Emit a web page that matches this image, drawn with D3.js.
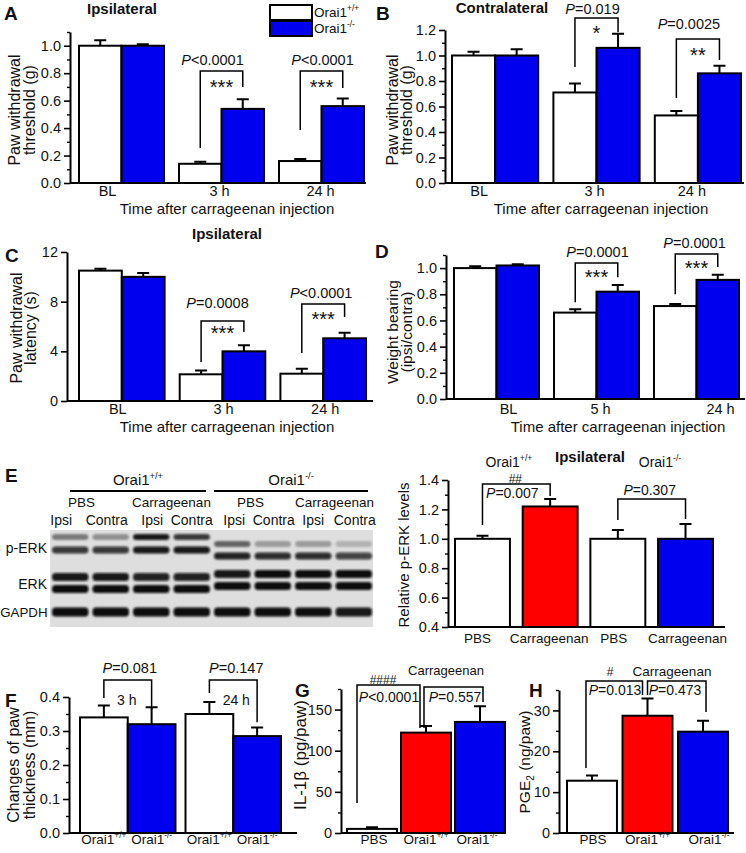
<!DOCTYPE html>
<html><head><meta charset="utf-8">
<script src="https://cdn.jsdelivr.net/npm/d3@7"></script>
<style>
body{margin:0;background:#fff}
svg{display:block}
text{font-family:"Liberation Sans",Arial,Helvetica,sans-serif;fill:#111}
</style>
</head><body>
<svg id="fig" width="746" height="853"></svg>
<script>
// ================= DATA =================
const genotypes = ["Orai1+/+", "Orai1-/-"];
const groupsABC = ["BL", "3 h", "24 h"];
const groupsD = ["BL", "5 h", "24 h"];

// A: ipsilateral paw withdrawal threshold (g)
const aWT = [1.00, 0.14, 0.16];
const aWTsem = [0.04, 0.015, 0.015];
const aKO = [1.00, 0.54, 0.56];
const aKOsem = [0.01, 0.07, 0.055];
// B: contralateral paw withdrawal threshold (g)
const bWT = [1.00, 0.71, 0.53];
const bWTsem = [0.03, 0.07, 0.035];
const bKO = [1.00, 1.06, 0.86];
const bKOsem = [0.05, 0.11, 0.06];
// C: paw withdrawal latency (s)
const cWT = [10.5, 2.15, 2.2];
const cWTsem = [0.15, 0.3, 0.4];
const cKO = [10.0, 4.0, 5.05];
const cKOsem = [0.3, 0.5, 0.45];
// D: weight bearing (ipsi/contra)
const dWT = [1.00, 0.66, 0.71];
const dWTsem = [0.015, 0.025, 0.015];
const dKO = [1.02, 0.82, 0.91];
const dKOsem = [0.01, 0.05, 0.04];
// E: relative p-ERK levels
const eCats = ["PBS", "Carrageenan", "PBS", "Carrageenan"];
const eVals = [1.00, 1.22, 1.00, 1.00];
const eSem = [0.02, 0.05, 0.06, 0.10];
// F: changes of paw thickness (mm)
const fTimes = ["3 h", "24 h"];
const fWT = [0.34, 0.35];
const fWTsem = [0.035, 0.035];
const fKO = [0.32, 0.285];
const fKOsem = [0.05, 0.025];
// G: IL-1beta (pg/paw)
const ghCats = ["PBS", "Orai1+/+", "Orai1-/-"];
const gVals = [5, 122, 135];
const gSem = [2, 8, 19];
// H: PGE2 (ng/paw)
const hVals = [12.8, 28.7, 24.8];
const hSem = [1.3, 4.2, 2.7];
// Western blot (band intensities 0..1)
const blotLanes = ["Ipsi", "Contra", "Ipsi", "Contra", "Ipsi", "Contra", "Ipsi", "Contra"];
const blotTreat = ["PBS", "Carrageenan", "PBS", "Carrageenan"];
const pErkUpper = [0.45, 0.35, 0.95, 0.8, 0.55, 0.3, 0.3, 0.2];
const pErkLower = [0.8, 0.8, 0.95, 0.95, 0.9, 0.85, 0.85, 0.75];
const erkUpper = [0.95, 0.95, 0.9, 0.9, 0.95, 1, 1, 1];
const erkLower = [1, 1, 1, 1, 1, 1, 1, 1];
const gapdh = [1, 1, 1, 1, 1, 1, 1, 0.95];
// tick values
const ticks0to1 = [0, 0.2, 0.4, 0.6, 0.8, 1.0];
const minors0to11 = [0.1, 0.3, 0.5, 0.7, 0.9, 1.1];
const ticksB = [0, 0.2, 0.4, 0.6, 0.8, 1.0, 1.2];
const minorsB = [0.1, 0.3, 0.5, 0.7, 0.9, 1.1];
const ticksC = [0, 4, 8, 12];
const ticksE = [0.4, 0.6, 0.8, 1.0, 1.2, 1.4];
const minorsE = [0.5, 0.7, 0.9, 1.1, 1.3];
const ticksF = [0, 0.1, 0.2, 0.3, 0.4];
const minorsF = [0.05, 0.15, 0.25, 0.35];
const ticksG = [0, 50, 100, 150];
const minorsG = [25, 75, 125, 175];
const ticksH = [0, 10, 20, 30];
const minorsH = [5, 15, 25, 35];

// ================= HELPERS =================
const svg = d3.select("#fig");
const BLUE = "#0000ee", RED = "#ff0000";
const f1 = d3.format(".1f"), fd = d3.format("d");

function rich(t, parts, fs) {
  let shift = 0;
  parts.forEach(([s, k]) => {
    const ts = t.append("tspan").text(s);
    let target = 0;
    if (k === "sup") { target = -0.42 * fs; ts.attr("font-size", fs * 0.62); }
    if (k === "sub") { target = 0.28 * fs; ts.attr("font-size", fs * 0.65); }
    if (k === "i") ts.attr("font-style", "italic");
    if (target !== shift) ts.attr("dy", target - shift);
    shift = target;
  });
}
function lab(s) {
  if (/[+-]\/[+-]$/.test(s)) return [[s.slice(0, -3)], [s.slice(-3), "sup"]];
  return [[s]];
}
function pv(s) { return [[s[0], "i"], [s.slice(1)]]; }
function txt(g, x, y, parts, o = {}) {
  const fs = o.fs || 14;
  const t = g.append("text").attr("x", x).attr("y", y).attr("font-size", fs)
    .attr("text-anchor", o.anchor || "middle");
  if (o.bold) t.attr("font-weight", "bold");
  rich(t, typeof parts === "string" ? [[parts]] : parts, fs);
  return t;
}
function vtxt(g, x, cy, parts, fs = 16) {
  const t = g.append("text").attr("transform", `translate(${x},${cy}) rotate(-90)`)
    .attr("font-size", fs).attr("text-anchor", "middle");
  rich(t, typeof parts === "string" ? [[parts]] : parts, fs);
}
function drawYAxis(g, y, x0, majors, minors, fmt) {
  const ax = g.append("g").attr("transform", `translate(${x0},0)`)
    .call(d3.axisLeft(y).tickValues(majors).tickFormat(fmt).tickSize(6).tickSizeOuter(0).tickPadding(3));
  ax.select(".domain").attr("stroke-width", 2).attr("stroke", "#000");
  ax.selectAll(".tick line").attr("stroke-width", 1.6).attr("stroke", "#000");
  ax.selectAll(".tick text").attr("font-size", 14.5).attr("fill", "#111");
  if (minors.length) {
    const mx = g.append("g").attr("transform", `translate(${x0},0)`)
      .call(d3.axisLeft(y).tickValues(minors).tickFormat("").tickSize(3).tickSizeOuter(0));
    mx.select(".domain").remove();
    mx.selectAll(".tick line").attr("stroke-width", 1.4).attr("stroke", "#000");
  }
}
function xAxisLine(g, x0, x1, yb) {
  g.append("line").attr("x1", x0).attr("x2", x1).attr("y1", yb).attr("y2", yb)
    .attr("stroke", "#000").attr("stroke-width", 2);
}
function drawBars(g, bars, y, base) {
  g.selectAll(null).data(bars).join("rect")
    .attr("x", d => d.x).attr("width", d => d.w)
    .attr("y", d => y(d.v)).attr("height", d => y(base) - y(d.v))
    .attr("fill", d => d.fill).attr("stroke", "#000").attr("stroke-width", 2);
  g.selectAll(null).data(bars).join("path")
    .attr("d", d => {
      const cx = d.x + d.w / 2, t = y(d.v + d.e), b = y(d.v);
      return `M${cx},${b}V${t}M${cx - 6},${t}H${cx + 6}`;
    })
    .attr("fill", "none").attr("stroke", "#000").attr("stroke-width", 2);
}
function bracket(g, xl, xr, yt, yl, yr) {
  g.append("path").attr("d", `M${xl},${yl}V${yt}H${xr}V${yr}`)
    .attr("fill", "none").attr("stroke", "#000").attr("stroke-width", 1.5);
}

function grouped(cfg) {
  const g = svg.append("g");
  const y = d3.scaleLinear().domain(cfg.domain).range(cfg.yRange);
  const base = y(cfg.domain[0]);
  const xg = d3.scaleBand().domain(cfg.cats).range(cfg.barRange).paddingInner(cfg.padIn);
  const xs = d3.scaleBand().domain(genotypes).range([0, xg.bandwidth()]);
  const cx = (c, k) => xg(c) + xs(k) + xs.bandwidth() / 2;
  const bars = cfg.cats.flatMap((c, i) => [
    { x: xg(c) + xs(genotypes[0]), w: xs.bandwidth(), v: cfg.wt[i], e: cfg.wtE[i], fill: "#fff" },
    { x: xg(c) + xs(genotypes[1]), w: xs.bandwidth(), v: cfg.ko[i], e: cfg.koE[i], fill: BLUE }]);
  drawBars(g, bars, y, cfg.domain[0]);
  xAxisLine(g, cfg.axisX, cfg.xEnd, base);
  drawYAxis(g, y, cfg.axisX, cfg.majors, cfg.minors, cfg.fmt);
  if (cfg.barLabels) {
    cfg.cats.forEach(c => genotypes.forEach(k => txt(g, cx(c, k), cfg.labY, lab(k), { fs: 13.5 })));
  } else {
    cfg.cats.forEach((c, i) => txt(g, xg(c) + xg.bandwidth() / 2 + cfg.labDx[i], cfg.labY, c, { fs: 14.5 }));
  }
  cfg.brackets.forEach(b => {
    const c = cfg.cats[b.g];
    const xl = cx(c, genotypes[0]), xr = cx(c, genotypes[1]);
    bracket(g, xl, xr, y(b.top), y(b.l), y(b.r));
    const mid = (xl + xr) / 2;
    txt(g, mid + b.adx, y(b.top) - b.ady, b.above, { fs: 14.5 });
    txt(g, mid + (b.bdx || 0), y(b.top) + b.bdy, b.below, { fs: b.bfs });
  });
  return g;
}

function simple(cfg) {
  const g = svg.append("g");
  const y = d3.scaleLinear().domain(cfg.domain).range(cfg.yRange);
  const base = y(cfg.domain[0]);
  const idx = d3.range(cfg.vals.length);
  const x = d3.scaleBand().domain(idx).range(cfg.barRange).paddingInner(cfg.padIn);
  const cx = i => x(i) + x.bandwidth() / 2;
  const bars = idx.map(i => ({ x: x(i), w: x.bandwidth(), v: cfg.vals[i], e: cfg.sem[i], fill: cfg.fills[i] }));
  drawBars(g, bars, y, cfg.domain[0]);
  xAxisLine(g, cfg.axisX, cfg.xEnd, base);
  drawYAxis(g, y, cfg.axisX, cfg.majors, cfg.minors, cfg.fmt);
  idx.forEach(i => txt(g, cx(i) + cfg.labDx[i], cfg.labY, lab(cfg.cats[i]), { fs: cfg.labFs || 14 }));
  cfg.brackets.forEach(b => {
    bracket(g, cx(b.a) + b.adx, cx(b.b) + b.bdx, y(b.top), y(b.l), y(b.r));
  });
  return { g, y, cx };
}

// ================= PANEL A =================
{
  const g = grouped({
    cats: groupsABC, wt: aWT, wtE: aWTsem, ko: aKO, koE: aKOsem,
    domain: [0, 1.1], yRange: [183, 32], barRange: [79, 364], padIn: 0.15,
    axisX: 70, xEnd: 366, majors: ticks0to1, minors: minors0to11, fmt: f1,
    labY: 196, labDx: [-14, -2, -1],
    brackets: [
      { g: 1, top: 0.816, l: 0.255, r: 0.70, above: pv("P<0.0001"), adx: -9, ady: 6, below: "***", bdy: 23, bfs: 20 },
      { g: 2, top: 0.816, l: 0.386, r: 0.692, above: pv("P<0.0001"), adx: 1, ady: 6, below: "***", bdy: 23, bfs: 20 }]
  });
  txt(g, 4, 20, "A", { fs: 19, bold: true, anchor: "start" });
  txt(g, 122, 14, "Ipsilateral", { fs: 15, bold: true });
  txt(g, 227, 213.5, "Time after carrageenan injection", { fs: 15 });
  vtxt(g, 20, 110, "Paw withdrawal");
  vtxt(g, 35, 110, "threshold (g)");
  // legend
  const lg = g.append("g");
  genotypes.forEach((k, i) => {
    lg.append("rect").attr("x", 270).attr("y", 5 + i * 16).attr("width", 42).attr("height", 15)
      .attr("fill", i ? BLUE : "#fff").attr("stroke", "#000").attr("stroke-width", 2);
    txt(lg, 314, 17 + i * 16, lab(k), { fs: 13.5, anchor: "start" });
  });
}

// ================= PANEL B =================
{
  const g = grouped({
    cats: groupsABC, wt: bWT, wtE: bWTsem, ko: bKO, koE: bKOsem,
    domain: [0, 1.2], yRange: [183, 30], barRange: [452, 741], padIn: 0.15,
    axisX: 445, xEnd: 744, majors: ticksB, minors: minorsB, fmt: f1,
    labY: 196, labDx: [-16, -2, -6],
    brackets: [
      { g: 1, top: 1.294, l: 0.91, r: 1.184, above: pv("P=0.019"), adx: -4, ady: 4, below: "*", bdy: 21.5, bfs: 20 },
      { g: 2, top: 1.129, l: 0.667, r: 0.965, above: pv("P=0.0025"), adx: -9, ady: 10, below: "**", bdy: 22.5, bfs: 20 }]
  });
  txt(g, 376, 20, "B", { fs: 19, bold: true, anchor: "start" });
  txt(g, 502, 13, "Contralateral", { fs: 15, bold: true });
  txt(g, 601, 213.5, "Time after carrageenan injection", { fs: 15 });
  vtxt(g, 398, 110, "Paw withdrawal");
  vtxt(g, 412, 110, "threshold (g)");
}

// ================= PANEL C =================
{
  const g = grouped({
    cats: groupsABC, wt: cWT, wtE: cWTsem, ko: cKO, koE: cKOsem,
    domain: [0, 12], yRange: [401, 252], barRange: [79, 366], padIn: 0.15,
    axisX: 67, xEnd: 373, majors: ticksC, minors: [], fmt: fd,
    labY: 414, labDx: [-4, 1, 2],
    brackets: [
      { g: 1, top: 6.44, l: 3.14, r: 5.56, above: pv("P=0.0008"), adx: -5, ady: 13, below: "***", bdy: 18.5, bfs: 20 },
      { g: 2, top: 7.81, l: 3.86, r: 6.76, above: pv("P<0.0001"), adx: -2, ady: 6, below: "***", bdy: 21.5, bfs: 20 }]
  });
  txt(g, 5, 262, "C", { fs: 19, bold: true, anchor: "start" });
  txt(g, 227, 239, "Ipsilateral", { fs: 15, bold: true });
  txt(g, 227, 431.5, "Time after carrageenan injection", { fs: 15 });
  vtxt(g, 22, 328, "Paw withdrawal");
  vtxt(g, 36, 328, "latency (s)");
}

// ================= PANEL D =================
{
  const g = grouped({
    cats: groupsD, wt: dWT, wtE: dWTsem, ko: dKO, koE: dKOsem,
    domain: [0, 1.1], yRange: [399, 255], barRange: [454, 739], padIn: 0.15,
    axisX: 446, xEnd: 745, majors: ticks0to1, minors: minors0to11, fmt: f1,
    labY: 414, labDx: [12, 4, 24],
    brackets: [
      { g: 1, top: 1.038, l: 0.74, r: 0.93, above: pv("P=0.0001"), adx: 1, ady: 6, below: "***", bdy: 20.5, bfs: 20 },
      { g: 2, top: 1.107, l: 0.80, r: 1.008, above: pv("P=0.0001"), adx: -2, ady: 6, below: "***", bdy: 20.5, bfs: 20 }]
  });
  txt(g, 375, 258, "D", { fs: 19, bold: true, anchor: "start" });
  txt(g, 618, 431.5, "Time after carrageenan injection", { fs: 15 });
  vtxt(g, 398, 332, "Weight bearing", 15.5);
  vtxt(g, 412, 332, "(ipsi/contra)", 15.5);
}

// ================= PANEL E: blot =================
{
  const g = svg.append("g");
  txt(g, 5, 482, "E", { fs: 19, bold: true, anchor: "start" });
  const defs = svg.append("defs");
  defs.append("filter").attr("id", "blur").attr("x", "-20%").attr("y", "-50%").attr("width", "140%").attr("height", "200%")
    .append("feGaussianBlur").attr("stdDeviation", 1.1);
  g.append("rect").attr("x", 50).attr("y", 530).attr("width", 323).attr("height", 97).attr("fill", "#dedede");
  const lane = d3.scaleBand().domain(d3.range(8)).range([52, 372]).paddingInner(0.1);
  const lc = i => lane(i) + lane.bandwidth() / 2;
  const rows = [
    { vals: pErkUpper, yWT: 537, yKO: 544, h: 6 },
    { vals: pErkLower, yWT: 550, yKO: 556, h: 7 },
    { vals: erkUpper, yWT: 577, yKO: 574, h: 8 },
    { vals: erkLower, yWT: 589, yKO: 586, h: 8 },
    { vals: gapdh, yWT: 612, yKO: 612, h: 9 }];
  rows.forEach(r => {
    g.append("g").attr("filter", "url(#blur)").selectAll("rect").data(r.vals).join("rect")
      .attr("x", (d, i) => lane(i)).attr("width", lane.bandwidth())
      .attr("y", (d, i) => (i < 4 ? r.yWT : r.yKO) - r.h / 2).attr("height", r.h)
      .attr("rx", 3.5).attr("fill", "#0a0a0a").attr("fill-opacity", d => d);
  });
  const laneDx = [-9, -4, 1, 0, 2, 1, 0, 1];
  blotLanes.forEach((s, i) => txt(g, lc(i) + laneDx[i], 525, s, { fs: 14 }));
  const treatDx = [-9, 0, -2, 1];
  blotTreat.forEach((s, j) => txt(g, (lc(2 * j) + lc(2 * j + 1)) / 2 + treatDx[j], 507, s, { fs: 13.5 }));
  genotypes.forEach((k, j) => {
    const x0 = lane(4 * j) + (j ? 0 : 18), x1 = lane(4 * j + 3) + lane.bandwidth() - 4;
    g.append("line").attr("x1", x0).attr("x2", x1).attr("y1", 491).attr("y2", 491).attr("stroke", "#000").attr("stroke-width", 2);
    txt(g, (x0 + x1) / 2, 485, lab(k), { fs: 15 });
  });
  txt(g, 47, 553, "p-ERK", { fs: 14, anchor: "end" });
  txt(g, 47, 589, "ERK", { fs: 14, anchor: "end" });
  txt(g, 47.5, 617, "GAPDH", { fs: 13.3, anchor: "end" });
}

// ================= PANEL E: bars =================
{
  const p = simple({
    vals: eVals, sem: eSem, cats: eCats, fills: ["#fff", RED, "#fff", BLUE],
    domain: [0.4, 1.4], yRange: [627, 480], barRange: [455, 713], padIn: 0.188,
    axisX: 448, xEnd: 725, majors: ticksE, minors: minorsE, fmt: f1,
    labY: 643, labDx: [-5, -1, -4, 2], labFs: 13.5,
    brackets: [
      { a: 0, b: 1, adx: 0, bdx: 0, top: 1.373, l: 1.094, r: 1.291 },
      { a: 2, b: 3, adx: 0, bdx: 0, top: 1.271, l: 1.128, r: 1.135 }]
  });
  const { g, y, cx } = p;
  txt(g, (cx(0) + cx(1)) / 2 - 1, y(1.373) - 1, "##", { fs: 12 });
  txt(g, (cx(0) + cx(1)) / 2 - 4, y(1.373) + 14, pv("P=0.007"), { fs: 14 });
  txt(g, (cx(2) + cx(3)) / 2 - 2, y(1.271) - 4, pv("P=0.307"), { fs: 14 });
  txt(g, 590, 462, "Ipsilateral", { fs: 15, bold: true });
  txt(g, 509, 467, lab(genotypes[0]), { fs: 14 });
  txt(g, 660, 467, lab(genotypes[1]), { fs: 14 });
  vtxt(g, 409, 555, "Relative p-ERK levels", 15);
}

// ================= PANEL F =================
{
  const g = grouped({
    cats: fTimes, wt: fWT, wtE: fWTsem, ko: fKO, koE: fKOsem,
    domain: [0, 0.4], yRange: [833, 697], barRange: [80, 281], padIn: 0.095,
    axisX: 69, xEnd: 297, majors: ticksF, minors: minorsF, fmt: f1,
    labY: 844, barLabels: true,
    brackets: [
      { g: 0, top: 0.45, l: 0.397, r: 0.362, above: pv("P=0.081"), adx: 2, ady: 7, below: fTimes[0], bdx: -1, bdy: 25, bfs: 14 },
      { g: 1, top: 0.45, l: 0.412, r: 0.326, above: pv("P=0.147"), adx: 3, ady: 7, below: fTimes[1], bdx: 3, bdy: 25, bfs: 14 }]
  });
  txt(g, 5, 707, "F", { fs: 19, bold: true, anchor: "start" });
  vtxt(g, 19, 765, "Changes of paw");
  vtxt(g, 35, 765, "thickness (mm)");
}

// ================= PANEL G =================
{
  const { g, y, cx } = simple({
    vals: gVals, sem: gSem, cats: ghCats, fills: ["#fff", RED, BLUE],
    domain: [0, 175], yRange: [833, 689], barRange: [347, 505], padIn: 0.074,
    axisX: 341, xEnd: 499, majors: ticksG, minors: minorsG, fmt: fd,
    labY: 844, labDx: [2, 0, -3], labFs: 13.5,
    brackets: [
      { a: 0, b: 1, adx: -15, bdx: -6, top: 179.8, l: 36.5, r: 127.6 },
      { a: 1, b: 2, adx: -2, bdx: 3, top: 177.4, l: 127.6, r: 159.2 }]
  });
  txt(g, 295, 697, "G", { fs: 19, bold: true, anchor: "start" });
  txt(g, 383, y(179.8) - 1, "####", { fs: 12 });
  txt(g, 389, 702, pv("P<0.0001"), { fs: 14 });
  txt(g, 455, 702, pv("P=0.557"), { fs: 14 });
  txt(g, 446, 675, "Carrageenan", { fs: 13 });
  vtxt(g, 306, 755, [["IL-1β (pg/paw)"]], 17);
}

// ================= PANEL H =================
{
  const { g, y, cx } = simple({
    vals: hVals, sem: hSem, cats: ghCats, fills: ["#fff", RED, BLUE],
    domain: [0, 35], yRange: [833, 690], barRange: [567, 728], padIn: 0.1,
    axisX: 559, xEnd: 734, majors: ticksH, minors: minorsH, fmt: fd,
    labY: 844, labDx: [1, 0, 6], labFs: 13.5,
    brackets: [
      { a: 0, b: 1, adx: -6, bdx: -5, top: 37.2, l: 15.9, r: 33.8 },
      { a: 1, b: 2, adx: 0, bdx: 3, top: 37.2, l: 33.8, r: 29.6 }]
  });
  txt(g, 529, 697, "H", { fs: 19, bold: true, anchor: "start" });
  txt(g, 610, 676, "#", { fs: 12 });
  txt(g, 672, 676, "Carrageenan", { fs: 13.5 });
  txt(g, 615, 695, pv("P=0.013"), { fs: 14 });
  txt(g, 675, 695, pv("P=0.473"), { fs: 14 });
  vtxt(g, 530, 762, [["PGE"], ["2", "sub"], [" (ng/paw)"]], 15.5);
}
</script>
</body></html>
